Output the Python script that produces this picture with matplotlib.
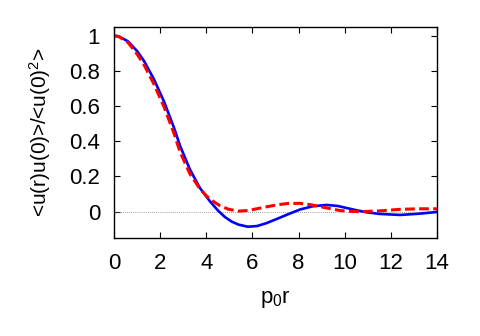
import numpy as np
import matplotlib
matplotlib.use("Agg")
import matplotlib.pyplot as plt

plt.rcParams['font.family'] = ['Liberation Sans', 'DejaVu Sans']
plt.rcParams['mathtext.fontset'] = 'custom'
plt.rcParams['mathtext.rm'] = 'Liberation Sans'
plt.rcParams['mathtext.it'] = 'Liberation Sans'

# solid blue curve
x_blue = [0, 0.2, 0.6, 1.0, 1.3, 1.73, 2.17, 2.6, 2.86, 3.29, 3.72, 4.16, 4.5, 4.8, 5.1,
          5.4, 5.8, 6.2, 6.6, 7.05, 7.6, 8.06, 8.6, 9.2, 9.7, 10.1, 10.5, 10.95, 11.5,
          12.4, 13.2, 14.0]
y_blue = [1.0, 0.997, 0.969, 0.913, 0.857, 0.753, 0.625, 0.477, 0.375, 0.24, 0.135, 0.058,
          0.007, -0.03, -0.057, -0.074, -0.086, -0.082, -0.066, -0.042, -0.012, 0.012,
          0.03, 0.038, 0.032, 0.02, 0.008, -0.004, -0.013, -0.019, -0.012, -0.002]

# dashed red curve
x_red = [0, 0.2, 0.6, 1.0, 1.3, 1.73, 2.17, 2.6, 2.86, 3.29, 3.72, 4.0, 4.3, 4.6, 4.95,
         5.38, 5.8, 6.18, 6.6, 7.05, 7.5, 8.06, 8.5, 8.92, 9.4, 9.8, 10.3, 10.7, 11.5,
         12.4, 13.2, 14.0]
y_red = [1.0, 0.996, 0.963, 0.896, 0.835, 0.725, 0.595, 0.445, 0.34, 0.215, 0.13, 0.09,
         0.058, 0.033, 0.014, 0.003, 0.006, 0.016, 0.027, 0.038, 0.046, 0.047, 0.04, 0.029,
         0.016, 0.006, 0.001, 0.0, 0.004, 0.013, 0.016, 0.016]

fig = plt.figure(figsize=(4.8, 3.36), dpi=100)
ax = fig.add_axes([0.2375, 0.2917, 0.673, 0.628])

ax.axhline(0, color='gray', lw=0.6, ls=(0, (1, 1.5)))
ax.plot(x_blue, y_blue, color='#0000ff', lw=1.9)
ax.plot(x_red, y_red, color='#ff0000', lw=2.2, ls=(0, (3.2, 1.4)))

ax.set_xlim(0, 14)
ax.set_ylim(-0.15, 1.05)
ax.set_xticks(range(0, 15, 2))
ax.set_yticks([0, 0.2, 0.4, 0.6, 0.8, 1])
ax.set_yticklabels(['0', '0.2', '0.4', '0.6', '0.8', '1'])
ax.tick_params(direction='in', top=True, right=True, labelsize=16, length=4)
ax.tick_params(axis='x', pad=11)
ax.tick_params(axis='y', pad=10)
for s in ax.spines.values():
    s.set_linewidth(1.0)

ax.set_xlabel('p$_0$r', fontsize=16, labelpad=10)
ax.set_ylabel('<u(r)u(0)>/<u(0)$^2$>', fontsize=15, labelpad=12)

fig.savefig('out.png', dpi=100)
